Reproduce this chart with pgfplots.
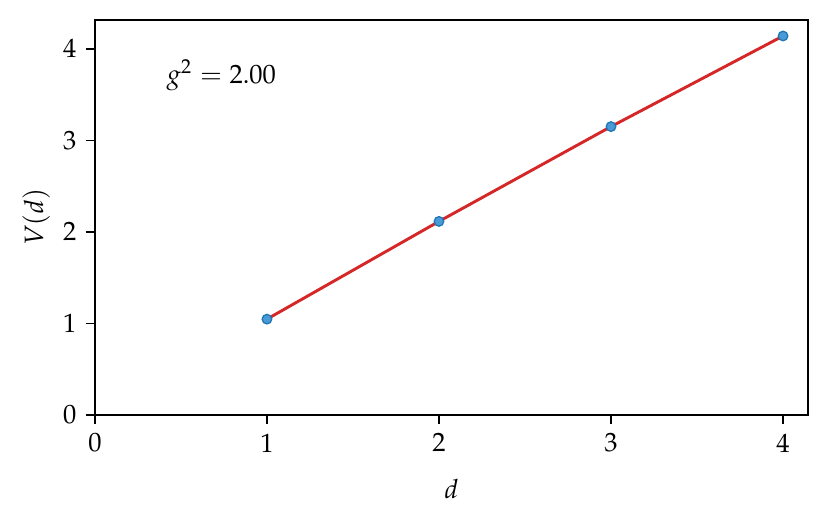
\documentclass[border=0pt]{standalone}
\usepackage[T1]{fontenc}
\usepackage{mathpazo}
\usepackage{pgfplots}
\pgfplotsset{compat=1.18}
\definecolor{mplred}{HTML}{D62728}
\definecolor{mplblue}{HTML}{1F77B4}
\definecolor{markfill}{HTML}{4A9AD8}

\begin{document}
\begin{tikzpicture}
\begin{axis}[
    name=ax,
    scale only axis,
    width=269pt, height=149pt,
    xmin=0, xmax=4.145,
    ymin=0, ymax=4.316,
    xtick={0,1,2,3,4},
    ytick={0,1,2,3,4},
    tick align=outside,
    major tick length=3.5pt,
    tick style={black, line width=0.6pt},
    axis line style={line width=0.6pt},
    xtick pos=bottom, ytick pos=left,
    xlabel={$d$}, ylabel={$V(d)$},
    xlabel style={yshift=-3.5pt},
    ylabel style={yshift=-2pt},
    ticklabel style={font=\normalsize},
    clip=false,
]
\addplot[mplred, line width=1.1pt, mark=*,
    mark size=1.8pt,
    mark options={fill=markfill, draw=mplblue, line width=0.5pt}]
  coordinates {(1,1.046) (2,2.114) (3,3.15) (4,4.14)};
\node[anchor=north west, inner sep=0pt] at (rel axis cs:0.1,0.9) {$g^2 = 2.00$};
\end{axis}
\pgfresetboundingbox
\path[use as bounding box] ([xshift=-35.8pt,yshift=-41.5pt]ax.south west) rectangle ([xshift=8.3pt,yshift=7.5pt]ax.north east);
\end{tikzpicture}
\end{document}
